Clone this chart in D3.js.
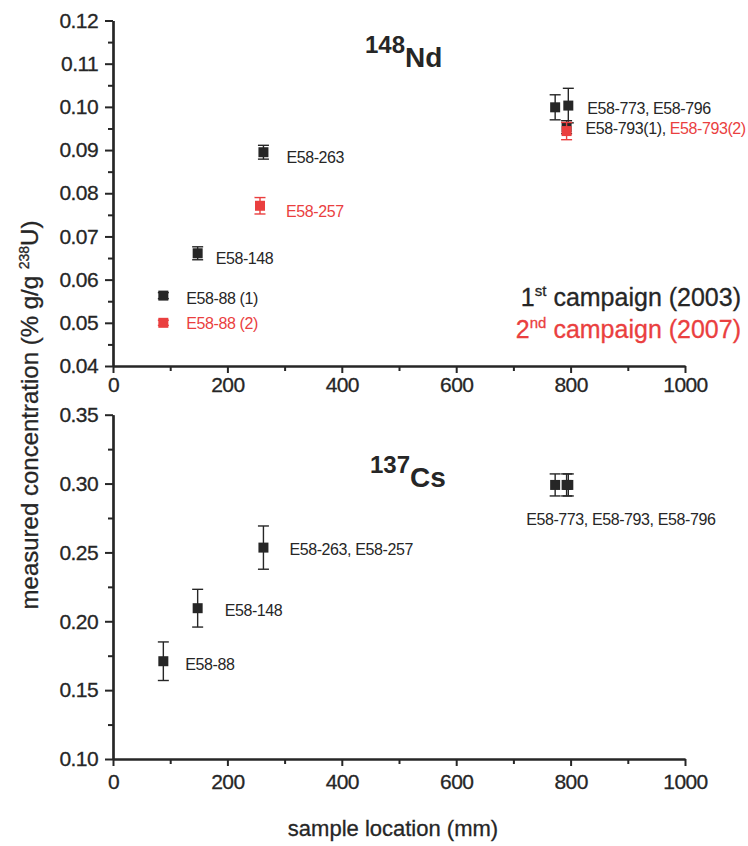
<!DOCTYPE html>
<html>
<head>
<meta charset="utf-8">
<script src="https://cdn.jsdelivr.net/npm/d3@7"></script>
<style>
  html, body { margin: 0; padding: 0; background: #fff; }
  svg { display: block; }
  text { font-family: "Liberation Sans", Arial, Helvetica, sans-serif; }
</style>
</head>
<body>
<svg id="chart" width="748" height="846"></svg>
<script>
// ---- 148Nd, first campaign (2003) ----
const ndLoc1 = [88, 148, 263, 773, 796, 793];
const ndVal1 = [0.0563, 0.0661, 0.0895, 0.0999, 0.1003, 0.0953];
const ndErr1 = [0.0007, 0.0015, 0.0016, 0.0029, 0.0040, 0.0015];

// ---- 148Nd, second campaign (2007) ----
const ndLoc2 = [88, 257, 793];
const ndVal2 = [0.0500, 0.0771, 0.0944];
const ndErr2 = [0.0006, 0.0019, 0.0020];

// ---- 137Cs ----
const csLoc = [88, 148, 263, 773, 793, 796];
const csVal = [0.1710, 0.2095, 0.2535, 0.2990, 0.2990, 0.2990];
const csErr = [0.0140, 0.0137, 0.0157, 0.0080, 0.0080, 0.0080];

// ---- axes ----
const xTicks = [0, 200, 400, 600, 800, 1000];
const xMinor = [100, 300, 500, 700, 900];
const ndTicks = [0.04, 0.05, 0.06, 0.07, 0.08, 0.09, 0.10, 0.11, 0.12];
const ndMinor = [0.045, 0.055, 0.065, 0.075, 0.085, 0.095, 0.105, 0.115];
const csTicks = [0.10, 0.15, 0.20, 0.25, 0.30, 0.35];
const csMinor = [0.125, 0.175, 0.225, 0.275, 0.325];

// ---- sample labels (text, anchor location, anchor value, campaign) ----
const ndLabels = [
  { parts: [["E58-88 (1)", 1]], loc: 88, val: 0.0563, dx: 23, dy: 8 },
  { parts: [["E58-88 (2)", 2]], loc: 88, val: 0.0500, dx: 23, dy: 6.5 },
  { parts: [["E58-148", 1]], loc: 148, val: 0.0661, dx: 18, dy: 10.5 },
  { parts: [["E58-263", 1]], loc: 263, val: 0.0895, dx: 23, dy: 11 },
  { parts: [["E58-257", 2]], loc: 257, val: 0.0771, dx: 26, dy: 11 },
  { parts: [["E58-773, E58-796", 1]], loc: 796, val: 0.1003, dx: 19, dy: 8 },
  { parts: [["E58-793(1), ", 1], ["E58-793(2)", 2]], loc: 793, val: 0.0944, dx: 19, dy: 3 }
];
const csLabels = [
  { text: "E58-88", loc: 88, val: 0.1710, dx: 22, dy: 9 },
  { text: "E58-148", loc: 148, val: 0.2095, dx: 27, dy: 8 },
  { text: "E58-263, E58-257", loc: 263, val: 0.2535, dx: 26, dy: 7 },
  { text: "E58-773, E58-793, E58-796", loc: 773, val: 0.2990, dx: -29, dy: 40 }
];

const DARK = "#262626";
const RED = "#ea3f3f";
const colorOf = c => (c === 1 ? DARK : RED);

const svg = d3.select("#chart");
svg.append("rect").attr("width", 748).attr("height", 846).attr("fill", "#fff");

const x = d3.scaleLinear().domain([0, 1000]).range([113, 685]);
const yNd = d3.scaleLinear().domain([0.04, 0.12]).range([366, 20.5]);
const yCs = d3.scaleLinear().domain([0.10, 0.35]).range([759, 414.7]);

function styleAxis(g) {
  g.selectAll("path.domain").attr("stroke", DARK).attr("stroke-width", 2.2);
  g.selectAll(".tick line").attr("stroke", DARK).attr("stroke-width", 2);
  g.selectAll(".tick text")
    .attr("fill", DARK)
    .attr("stroke", DARK).attr("stroke-width", 0.3)
    .style("font-size", "21px")
    .style("letter-spacing", "-0.6px");
}

function drawAxes(y, yTicks, yMinor, yFmt, xPad) {
  const yAxisG = svg.append("g").attr("transform", `translate(${x(0)},0)`);
  yAxisG.append("g").call(d3.axisLeft(y).tickValues(yMinor).tickSize(5).tickSizeOuter(0).tickFormat(""))
    .call(styleAxis);
  yAxisG.append("g").call(d3.axisLeft(y).tickValues(yTicks).tickSize(8).tickSizeOuter(0).tickPadding(7).tickFormat(yFmt))
    .call(styleAxis);

  const base = y.range()[0];
  const xAxisG = svg.append("g").attr("transform", `translate(0,${base})`);
  xAxisG.append("g").call(d3.axisBottom(x).tickValues(xMinor).tickSize(5).tickSizeOuter(0).tickFormat(""))
    .call(styleAxis);
  xAxisG.append("g").call(d3.axisBottom(x).tickValues(xTicks).tickSize(7).tickSizeOuter(0).tickPadding(xPad).tickFormat(d3.format("d")))
    .call(styleAxis);
}

drawAxes(yNd, ndTicks, ndMinor, d3.format(".2f"), 4);
drawAxes(yCs, csTicks, csMinor, d3.format(".2f"), 8);

// error bars + square markers
function drawSeries(locs, vals, errs, y, color) {
  const g = svg.append("g");
  const pts = locs.map((l, i) => ({ l, v: vals[i], e: errs[i] }));
  const cap = 5.5;
  const eb = g.selectAll("g.eb").data(pts).join("g")
    .attr("stroke", color).attr("stroke-width", 1.4).attr("fill", "none");
  eb.append("line")
    .attr("x1", d => x(d.l)).attr("x2", d => x(d.l))
    .attr("y1", d => y(d.v + d.e)).attr("y2", d => y(d.v - d.e));
  eb.append("line")
    .attr("x1", d => x(d.l) - cap).attr("x2", d => x(d.l) + cap)
    .attr("y1", d => y(d.v + d.e)).attr("y2", d => y(d.v + d.e));
  eb.append("line")
    .attr("x1", d => x(d.l) - cap).attr("x2", d => x(d.l) + cap)
    .attr("y1", d => y(d.v - d.e)).attr("y2", d => y(d.v - d.e));
  const s = 10;
  g.selectAll("rect.pt").data(pts).join("rect")
    .attr("x", d => x(d.l) - s / 2).attr("y", d => y(d.v) - s / 2)
    .attr("width", s).attr("height", s)
    .attr("fill", color);
}

drawSeries(ndLoc1, ndVal1, ndErr1, yNd, DARK);
drawSeries(ndLoc2, ndVal2, ndErr2, yNd, RED);
drawSeries(csLoc, csVal, csErr, yCs, DARK);

// sample labels
const labelFont = "16px";
ndLabels.forEach(lb => {
  const t = svg.append("text")
    .attr("x", x(lb.loc) + lb.dx).attr("y", yNd(lb.val) + lb.dy)
    .style("font-size", labelFont).style("letter-spacing", "-0.4px");
  lb.parts.forEach(([txt, c]) => t.append("tspan").attr("fill", colorOf(c)).text(txt));
});
csLabels.forEach(lb => {
  svg.append("text")
    .attr("x", x(lb.loc) + lb.dx).attr("y", yCs(lb.val) + lb.dy)
    .attr("fill", DARK)
    .style("font-size", labelFont).style("letter-spacing", "-0.4px")
    .text(lb.text);
});

// panel titles (isotopes)
function isotope(xp, yp, mass, sym) {
  const t = svg.append("text").attr("x", xp).attr("y", yp)
    .attr("fill", DARK).style("font-weight", "bold");
  t.append("tspan").style("font-size", "24px").text(mass);
  t.append("tspan").attr("dy", 14).style("font-size", "28px").text(sym);
}
isotope(365, 53, "148", "Nd");
isotope(370, 473, "137", "Cs");

// campaign legend
function legendLine(yp, num, sup, rest, color) {
  const t = svg.append("text").attr("x", 741).attr("y", yp)
    .attr("text-anchor", "end").attr("fill", color)
    .attr("stroke", color).attr("stroke-width", 0.3)
    .style("font-size", "25px");
  t.append("tspan").text(num);
  t.append("tspan").attr("dy", -10).style("font-size", "15px").text(sup);
  t.append("tspan").attr("dy", 10).text(rest);
}
legendLine(306, "1", "st", " campaign (2003)", DARK);
legendLine(338, "2", "nd", " campaign (2007)", RED);

// axis titles
svg.append("text")
  .attr("x", 393).attr("y", 836)
  .attr("text-anchor", "middle").attr("fill", DARK)
  .attr("stroke", DARK).attr("stroke-width", 0.3)
  .style("font-size", "22px")
  .text("sample location (mm)");

const yt = svg.append("text")
  .attr("transform", "translate(38,415) rotate(-90)")
  .attr("text-anchor", "middle").attr("fill", DARK)
  .attr("stroke", DARK).attr("stroke-width", 0.3)
  .style("font-size", "24px");
yt.append("tspan").text("measured concentration (% g/g ");
yt.append("tspan").attr("dy", -9).style("font-size", "14px").text("238");
yt.append("tspan").attr("dy", 9).text("U)");
</script>
</body>
</html>
